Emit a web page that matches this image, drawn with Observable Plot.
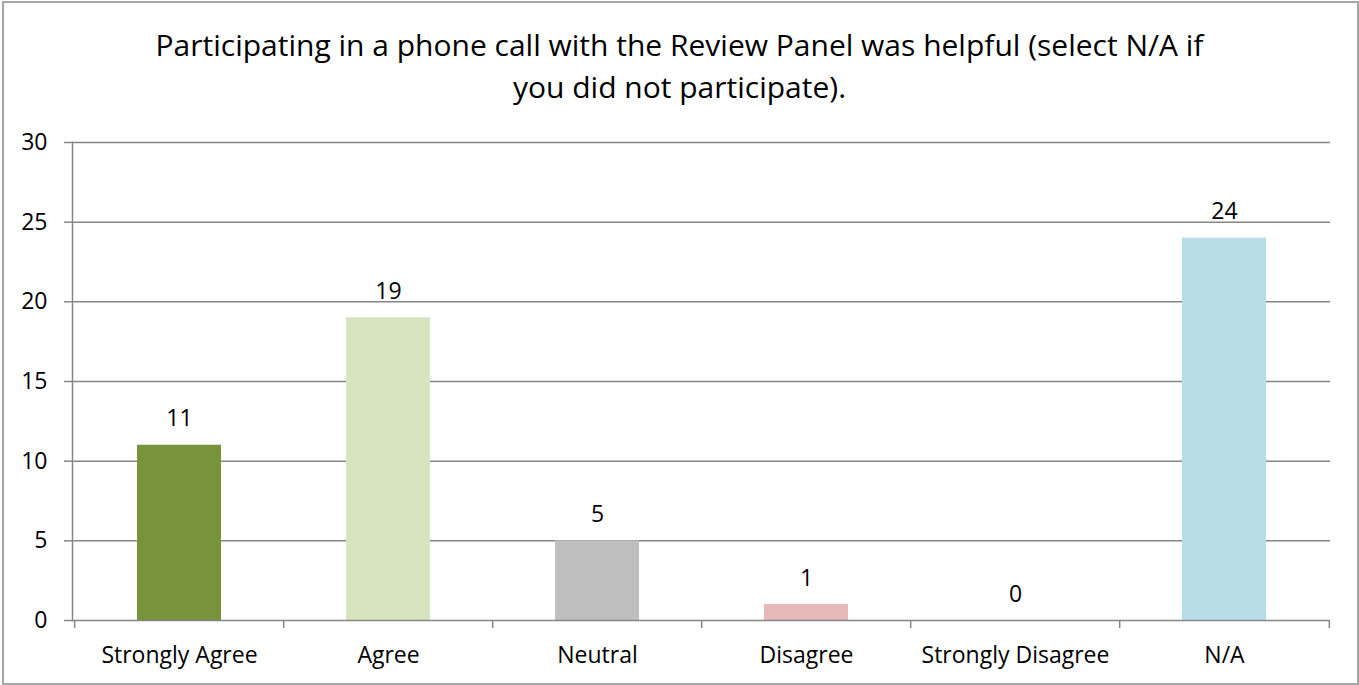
<!DOCTYPE html>
<html><head><meta charset="utf-8">
<script src="https://cdn.jsdelivr.net/npm/d3@7"></script>
<script src="https://cdn.jsdelivr.net/npm/@observablehq/plot@0.6"></script>
<style>
body{margin:0;background:#fff;}
#wrap{position:relative;width:1359px;height:685px;overflow:hidden;font-family:"Open Sans",sans-serif;background:#fff;}
#frame{position:absolute;left:2px;top:1px;width:1353px;height:680px;border:2px solid #a6a6a6;pointer-events:none;}
#title{height:120px;box-sizing:border-box;padding-top:24px;text-align:center;font-size:30px;line-height:42px;color:#000;white-space:nowrap;}
#chart svg{display:block;}
</style></head><body>
<div id="wrap">
  <div id="title"><div id="t1"></div><div id="t2"></div></div>
  <div id="chart"></div>
  <div id="frame"></div>
</div>
<script>
const titleLines = ["Participating in a phone call with the Review Panel was helpful (select N/A if", "you did not participate)."];
const categories = ["Strongly Agree", "Agree", "Neutral", "Disagree", "Strongly Disagree", "N/A"];
const values = [11, 19, 5, 1, 0, 24];
const colors = ["#77933C", "#D7E4BD", "#BFBFBF", "#E6B9B8", "#E6B9B8", "#B7DEE8"];
const yTicks = [0, 5, 10, 15, 20, 25, 30];

document.getElementById("t1").textContent = titleLines[0];
document.getElementById("t2").textContent = titleLines[1];

const data = categories.map((c, i) => ({category: c, value: values[i], color: colors[i]}));

const W = 1359, H = 565, mL = 72, mR = 29, mT = 22, mB = 65;
const step = (W - mL - mR) / categories.length;
const grid = "#868686";
const fs = 23;

const chart = Plot.plot({
  width: W, height: H,
  marginLeft: mL, marginRight: mR, marginTop: mT, marginBottom: mB,
  style: {fontFamily: "'Open Sans', sans-serif", fontSize: fs + "px", color: "#000", background: "transparent"},
  x: {domain: categories, paddingInner: 0.6, paddingOuter: 0.3, label: null},
  y: {domain: [0, 30], label: null},
  marks: [
    Plot.ruleY(yTicks.filter(d => d > 0), {stroke: grid, strokeWidth: 1.5}),
    Plot.frame({anchor: "left", stroke: grid, strokeWidth: 1.5}),
    Plot.barY(data, {x: "category", y: "value", fill: "color"}),
    Plot.ruleY([0], {stroke: grid, strokeWidth: 1.5}),
    Plot.ruleX(categories, {x: d => d, y1: 0, y2: 0, dx: -step / 2, insetBottom: -8, stroke: grid, strokeWidth: 1.5}),
    Plot.ruleX([categories[categories.length - 1]], {x: d => d, y1: 0, y2: 0, dx: step / 2, insetBottom: -8, stroke: grid, strokeWidth: 1.5}),
    Plot.text(data, {x: "category", y: "value", text: d => String(d.value), lineAnchor: "bottom", dy: -19, fill: "#000", fontSize: fs}),
    Plot.axisY({ticks: yTicks, tickSize: 8, tickPadding: 17, stroke: grid, strokeWidth: 1.5, fill: "#000", fontSize: fs, label: null}),
    Plot.axisX({tickSize: 0, tickPadding: 26, fill: "#000", fontSize: fs, label: null})
  ]
});
document.getElementById("chart").appendChild(chart);
</script>
</body></html>
